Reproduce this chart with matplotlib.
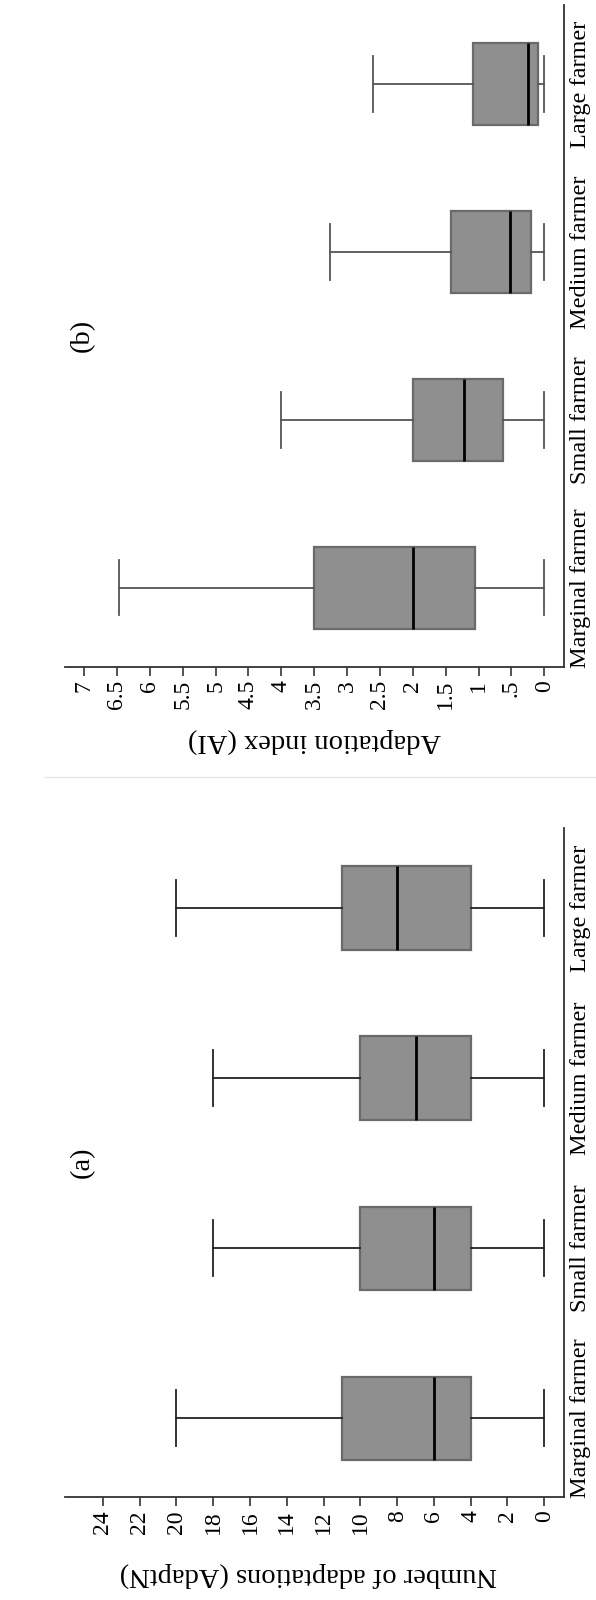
import matplotlib
matplotlib.use("Agg")
import matplotlib.pyplot as plt
from matplotlib.lines import Line2D

plt.rcParams['font.family'] = ['Liberation Serif', 'DejaVu Serif']

categories = ["Marginal farmer", "Small farmer", "Medium farmer", "Large farmer"]

# (a) number of adaptations (AdaptN)
n_low = [0, 0, 0, 0]
n_q1 = [4, 4, 4, 4]
n_med = [6, 6, 7, 8]
n_q3 = [11, 10, 10, 11]
n_high = [20, 18, 18, 20]
n_ticks = [0, 2, 4, 6, 8, 10, 12, 14, 16, 18, 20, 22, 24]
n_ticklabels = [str(t) for t in n_ticks]

# (b) adaptation index (AI)
ai_low = [0, 0, 0, 0]
ai_q1 = [1.05, 0.63, 0.20, 0.09]
ai_med = [2.0, 1.22, 0.52, 0.25]
ai_q3 = [3.5, 2.0, 1.42, 1.09]
ai_high = [6.47, 4.0, 3.26, 2.61]
ai_ticks = [0, 0.5, 1, 1.5, 2, 2.5, 3, 3.5, 4, 4.5, 5, 5.5, 6, 6.5, 7]
ai_ticklabels = ["0", ".5", "1", "1.5", "2", "2.5", "3", "3.5", "4", "4.5",
                 "5", "5.5", "6", "6.5", "7"]

W, H = 596, 1600
fig = plt.figure(figsize=(W / 100, H / 100), dpi=100)


def panel(rect, low, q1, med, q3, high, ticks, ticklabels, xlim, ylim,
          xlabel, label_xy, tag, wcol):
    ax = fig.add_axes(rect)
    stats = []
    for lo, a, m, b, hi in zip(low, q1, med, q3, high):
        stats.append(dict(whislo=lo, q1=a, med=m, q3=b, whishi=hi, fliers=[]))
    ax.bxp(stats, positions=[1, 2, 3, 4], orientation='horizontal',
           widths=0.49, capwidths=0.33, showfliers=False, patch_artist=True,
           boxprops=dict(facecolor='#8f8f8f', edgecolor='#6a6a6a', linewidth=1.6),
           medianprops=dict(color='black', linewidth=2),
           whiskerprops=dict(color=wcol, linewidth=1.3),
           capprops=dict(color=wcol, linewidth=1.3))
    ax.set_xlim(xlim)
    ax.set_ylim(ylim)
    for s in ['left', 'top']:
        ax.spines[s].set_visible(False)
    for s in ['bottom', 'right']:
        ax.spines[s].set_color('#333333')
        ax.spines[s].set_linewidth(1.3)
    ax.set_xticks(ticks)
    ax.set_xticklabels(ticklabels, rotation=90, fontsize=17)
    ax.tick_params(axis='x', length=6.5, width=1.2, color='#333333', pad=3)
    ax.yaxis.tick_right()
    ax.set_yticks([1, 2, 3, 4])
    ax.set_yticklabels(categories, rotation=90, va='center', fontsize=17.5)
    ax.tick_params(axis='y', length=0, pad=4)
    ax.set_xlabel(xlabel, rotation=180, fontsize=20.5)
    ax.xaxis.set_label_coords(*label_xy)
    ax.xaxis.label.set_va('center')
    # panel tag, centred along the category axis, near the far end of the value axis
    ax.text(0.034, 0.5, tag, transform=ax.transAxes, rotation=90,
            fontsize=20.5, ha='center', va='center')
    return ax


# panel (a) at the bottom, panel (b) at the top
panel([65 / W, (H - 1497) / H, 499.3 / W, 669 / H],
      n_low, n_q1, n_med, n_q3, n_high, n_ticks, n_ticklabels,
      (26.06, -1.09), (0.538, 4.47),
      "Number of adaptations (AdaptN)", (0.487, -0.1166), "(a)", '#222222')

panel([65 / W, (H - 666.7) / H, 499.3 / W, 661.7 / H],
      ai_low, ai_q1, ai_med, ai_q3, ai_high, ai_ticks, ai_ticklabels,
      (7.29, -0.304), (0.53, 4.47),
      "Adaptation index (AI)", (0.4995, -0.1115), "(b)", '#555555')

# thin separator between the two graphs
fig.add_artist(Line2D([44 / W, 1], [1 - 777 / H, 1 - 777 / H],
                      transform=fig.transFigure, color='#e8e8e8', linewidth=1))

fig.savefig("out.png", dpi=100)
